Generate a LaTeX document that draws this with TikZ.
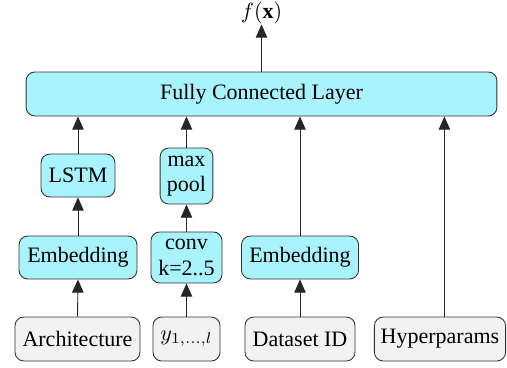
\documentclass[tikz,border=0pt]{standalone}
\usepackage{fontspec}
\setmainfont{Liberation Serif}
\usetikzlibrary{arrows.meta}
\definecolor{layercyan}{HTML}{A8F3FC}
\definecolor{inputgray}{HTML}{F2F2F2}
\begin{document}
\begin{tikzpicture}[x=0.4545pt,y=-0.4545pt]
	\tikzstyle{every node}+=[inner sep=0pt, font=\fontsize{10}{11.5}\selectfont]
	\tikzstyle{layer}=[draw=black!80, fill=layercyan, rounded corners=4pt, align=center]
	\tikzstyle{input}=[draw=black!80, fill=inputgray, rounded corners=4pt, minimum height=20pt]
	\tikzstyle{flow}=[-{Triangle[width=5.2pt,length=6pt]}, black!85]
	\useasboundingbox (0,0) rectangle (507,367);
	\node [layer, minimum width=214pt, minimum height=20pt] (fc) at (261.5,94) {Fully Connected Layer};
	\node (out) at (261.5,13) {$f(\mathbf{x})$};
	\node [layer, minimum width=33.6pt, minimum height=19.5pt] (lstm) at (78,175.5) {LSTM};
	\node [layer, minimum width=24pt, minimum height=25.5pt] (pool) at (186.5,176) {max\\pool};
	\node [layer, minimum width=53.6pt, minimum height=19.5pt] (emb1) at (78,257.5) {Embedding};
	\node [layer, minimum width=32.3pt, minimum height=23.2pt] (conv) at (186.5,257.5) {conv\\k=2..5};
	\node [layer, minimum width=53.2pt, minimum height=19.5pt] (emb2) at (300,257.5) {Embedding};
	\node [input, minimum width=56.8pt] (arch) at (77.5,339) {Architecture};
	\node [input, minimum width=30.5pt] (seq) at (186.5,339) {$y_{1,\ldots,l}$};
	\node [input, minimum width=50pt] (data) at (300,339) {Dataset ID};
	\node [input, minimum width=59.6pt] (hyper) at (440,339) {Hyperparams};
	\draw [flow] (fc.north) -- (out.south);
	\draw [flow] (lstm.north) -- (lstm.north |- fc.south);
	\draw [flow] (pool.north) -- (pool.north |- fc.south);
	\draw [flow] (emb1.north) -- (lstm.south);
	\draw [flow] (conv.north) -- (pool.south);
	\draw [flow] (emb2.north) -- (emb2.north |- fc.south);
	\draw [flow] (arch.north) -- (emb1.south);
	\draw [flow] (seq.north) -- (conv.south);
	\draw [flow] (data.north) -- (emb2.south);
	\draw [flow] ([xshift=2pt]hyper.north) -- ([xshift=2pt]hyper.north |- fc.south);
\end{tikzpicture}
\end{document}
